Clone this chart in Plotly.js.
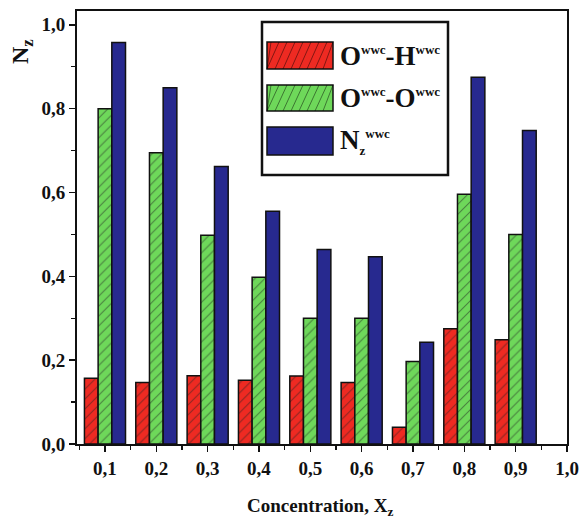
<!DOCTYPE html>
<html>
<head>
<meta charset="utf-8">
<script src="https://cdn.plot.ly/plotly-3.0.1.min.js"></script>
<style>html,body{margin:0;padding:0;background:#fff;}#chart{width:586px;height:524px;}</style>
</head>
<body>
<div id="chart"></div>
<script>
const concentrations = [0.1, 0.2, 0.3, 0.4, 0.5, 0.6, 0.7, 0.8, 0.9];
const ohValues = [0.157, 0.147, 0.163, 0.152, 0.162, 0.147, 0.04, 0.275, 0.249];
const ooValues = [0.8, 0.695, 0.498, 0.398, 0.3, 0.3, 0.197, 0.596, 0.5];
const nzValues = [0.958, 0.85, 0.662, 0.555, 0.464, 0.447, 0.243, 0.875, 0.748];
const SUP = '<sup><span style="font-size:13px">wwc</span></sup>';
const seriesNames = ['O' + SUP + '-H' + SUP, 'O' + SUP + '-O' + SUP, 'N<sub><span style="font-size:13px">z</span></sub>' + SUP];
const xTickVals = [0.1, 0.2, 0.3, 0.4, 0.5, 0.6, 0.7, 0.8, 0.9, 1.0];
const xTickText = ['0,1', '0,2', '0,3', '0,4', '0,5', '0,6', '0,7', '0,8', '0,9', '1,0'];
const yTickVals = [0, 0.2, 0.4, 0.6, 0.8, 1.0];
const yTickText = ['0,0', '0,2', '0,4', '0,6', '0,8', '1,0'];

const colors = ['#ee2a22', '#6ed85a', '#27298f'];
const FONT = "Liberation Serif";

function barTrace(y, i, hatch) {
  const marker = {color: colors[i], line: {color: '#111', width: 1.5}};
  if (hatch) marker.pattern = {shape: '/', fgcolor: '#222', bgcolor: colors[i], size: 7, solidity: 0.15, fillmode: 'overlay'};
  return {type: 'bar', x: concentrations, y: y, name: seriesNames[i], marker: marker, showlegend: false};
}

const data = [barTrace(ohValues, 0, true), barTrace(ooValues, 1, true), barTrace(nzValues, 2, false)];

const bold = arr => arr.map(t => '<b>' + t + '</b>');

const axisCommon = {
  showgrid: false, zeroline: false, showline: true, linecolor: '#111', linewidth: 2, mirror: true,
  ticks: 'outside', ticklen: 6, tickwidth: 1.5, tickcolor: '#111',
  tickfont: {family: FONT, size: 19, color: '#111'}
};

const legShapes = [];
const legAnn = [];
const legLeft = 262, legTop = 22, legRight = 448, legBottom = 175;
const W = 490, H = 433, L = 77, T = 11;
function px(x) { return (x - L) / W; }
function py(y) { return 1 - (y - T) / H; }
legShapes.push({type: 'rect', xref: 'paper', yref: 'paper', x0: px(legLeft), x1: px(legRight), y0: py(legBottom), y1: py(legTop), line: {color: '#111', width: 2.5}, fillcolor: '#fff'});
const swY = [[42, 69], [85, 111], [127, 155]];
for (let i = 0; i < 3; i++) {
  legShapes.push({type: 'rect', xref: 'paper', yref: 'paper', x0: px(267), x1: px(333), y0: py(swY[i][1]), y1: py(swY[i][0]), line: {color: '#111', width: 1.5}, fillcolor: colors[i]});
  if (i < 2) {
    for (let k = 0; k < 9; k++) {
      const xa = 267 + k * 8;
      legShapes.push({type: 'line', xref: 'paper', yref: 'paper', x0: px(Math.max(267, xa - 8)), y0: py(swY[i][1]), x1: px(Math.min(333, xa + 4)), y1: py(swY[i][0]), line: {color: 'rgba(0,0,0,0.45)', width: 1}});
    }
  }
  legAnn.push({xref: 'paper', yref: 'paper', x: px(338), y: py((swY[i][0] + swY[i][1]) / 2), xanchor: 'left', yanchor: 'middle', showarrow: false, text: '<b>' + seriesNames[i] + '</b>', font: {family: FONT, size: 27, color: '#111'}});
}

const layout = {
  width: 586, height: 524,
  margin: {l: L, r: 19, t: T, b: 80},
  paper_bgcolor: '#fff', plot_bgcolor: '#fff',
  font: {family: FONT, size: 19, color: '#111'},
  barmode: 'group', bargap: 0.2, bargroupgap: 0,
  xaxis: Object.assign({}, axisCommon, {range: [0.0455, 1.0], tickvals: xTickVals, ticktext: bold(xTickText),
    minor: {dtick: 0.05, tick0: 0.05, ticks: 'outside', ticklen: 4, tickwidth: 1.2, tickcolor: '#111'}}),
  yaxis: Object.assign({}, axisCommon, {range: [0, 1.033], tickvals: yTickVals, ticktext: bold(yTickText),
    minor: {dtick: 0.1, tick0: 0, ticks: 'outside', ticklen: 4, tickwidth: 1.2, tickcolor: '#111'}}),
  shapes: legShapes,
  annotations: legAnn.concat([
    {xref: 'paper', yref: 'paper', x: px(22), y: py(52), textangle: -90, showarrow: false, xanchor: 'center', yanchor: 'middle',
     text: '<b>N<sub>z</sub></b>', font: {family: FONT, size: 24, color: '#111'}},
    {xref: 'paper', yref: 'paper', x: px(320), y: py(507), showarrow: false, xanchor: 'center', yanchor: 'middle',
     text: '<b>Concentration, X<sub>z</sub></b>', font: {family: FONT, size: 19, color: '#111'}}
  ])
};

Plotly.newPlot('chart', data, layout, {displayModeBar: false, staticPlot: true});
</script>
</body>
</html>
